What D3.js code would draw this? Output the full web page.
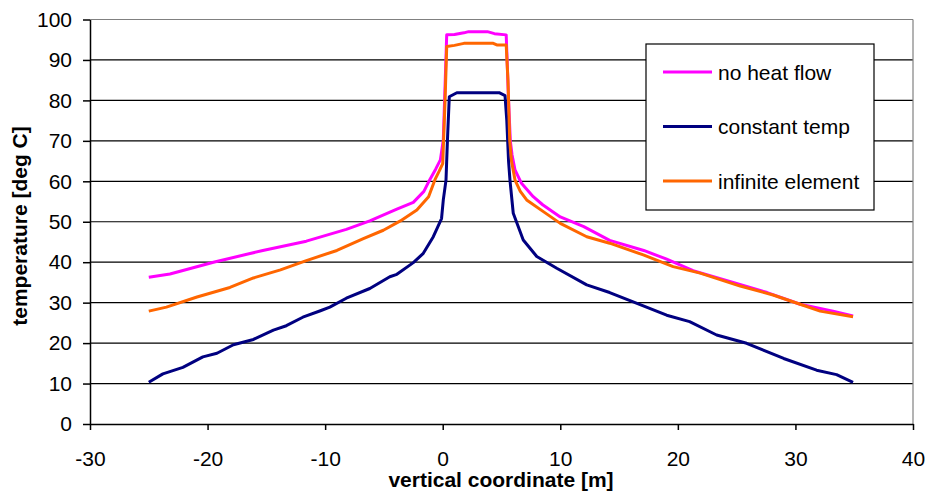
<!DOCTYPE html>
<html>
<head>
<meta charset="utf-8">
<script src="https://cdn.jsdelivr.net/npm/d3@7"></script>
<style>
  body { margin: 0; background: #fff; }
  text { font-family: "Liberation Sans", Arial, sans-serif; }
</style>
</head>
<body>
<div class="chart"></div>
<script>
// data: [vertical coordinate, temperature]
var noHeatFlow = [[-25.0,36.3],[-23.2,37.1],[-19.5,40.0],[-15.3,42.9],[-11.6,45.2],[-8.2,48.1],[-6.2,50.2],[-3.9,53.1],[-2.5,54.8],[-1.6,57.5],[-1.1,60.4],[-0.6,63.0],[-0.2,65.3],[0.05,70.2],[0.34,96.2],[1.0,96.3],[1.8,96.7],[2.2,97.0],[3.8,97.0],[4.4,96.5],[5.4,96.2],[5.6,80.0],[5.75,70.0],[5.9,66.5],[6.15,62.8],[6.7,59.5],[7.7,56.2],[8.5,54.2],[10.0,51.2],[12.0,48.8],[14.2,45.4],[17.1,42.9],[19.0,40.8],[21.3,37.9],[24.7,35.0],[27.6,32.5],[30.4,29.6],[33.2,27.9],[34.9,26.7]];
var constantTemp = [[-25.0,10.3],[-23.8,12.4],[-22.1,14.0],[-20.4,16.6],[-19.2,17.5],[-17.8,19.6],[-16.1,20.9],[-14.4,23.2],[-13.3,24.3],[-11.9,26.4],[-10.4,28.0],[-9.6,28.9],[-8.2,31.1],[-6.2,33.5],[-4.5,36.4],[-3.9,37.0],[-2.5,39.9],[-1.65,42.2],[-0.8,46.3],[-0.1,50.8],[0.05,55.4],[0.28,60.3],[0.4,70.0],[0.56,80.9],[1.2,81.9],[4.8,81.9],[5.3,81.2],[5.45,75.0],[5.6,65.0],[5.72,60.3],[6.0,52.1],[6.85,45.5],[8.0,41.4],[9.7,38.5],[12.25,34.4],[14.2,32.5],[16.2,30.2],[19.05,26.9],[21.0,25.3],[23.3,22.0],[25.85,19.95],[29.0,16.2],[31.8,13.3],[33.5,12.2],[34.9,10.3]];
var infiniteElement = [[-25.0,27.9],[-23.5,28.9],[-20.9,31.4],[-18.1,33.75],[-16.1,36.1],[-13.8,38.1],[-11.6,40.4],[-9.0,42.9],[-6.75,45.8],[-5.05,47.9],[-3.6,50.2],[-2.2,52.9],[-1.2,56.2],[-0.66,60.4],[-0.3,62.5],[0.0,64.4],[0.2,80.0],[0.34,93.3],[1.0,93.6],[1.8,94.1],[4.3,94.1],[4.6,93.7],[5.4,93.7],[5.55,85.0],[5.7,70.0],[5.85,65.0],[6.15,60.3],[6.6,57.5],[7.14,55.4],[8.56,52.5],[10.0,49.6],[12.25,46.3],[14.2,44.7],[17.06,41.8],[19.6,38.9],[21.9,37.3],[25.3,34.1],[28.1,31.9],[30.4,29.6],[32.1,27.9],[34.9,26.5]];

var seriesNames = ['no heat flow', 'constant temp', 'infinite element'];
var seriesData = [noHeatFlow, constantTemp, infiniteElement];
var seriesColors = ['#ff00ff', '#000080', '#ff6600'];
var xTicks = [-30, -20, -10, 0, 10, 20, 30, 40];
var yTicks = [0, 10, 20, 30, 40, 50, 60, 70, 80, 90, 100];

var W = 928, H = 491;
var margin = {top: 19.5, right: 15, bottom: 67, left: 90},
    width = W - margin.left - margin.right,
    height = H - margin.top - margin.bottom;

var svg = d3.select(".chart")
  .append("svg")
    .attr("width", W)
    .attr("height", H)
  .append("g")
    .attr("transform", "translate(" + margin.left + "," + margin.top + ")");

var x = d3.scaleLinear().domain([-30, 40]).range([0, width]);
var y = d3.scaleLinear().domain([0, 100]).range([height, 0]);

// gridlines
svg.selectAll(".grid")
  .data(yTicks.filter(function(d) { return d > 0; }))
  .enter().append("line")
    .attr("class", "grid")
    .attr("x1", 0).attr("x2", width)
    .attr("y1", function(d) { return y(d); })
    .attr("y2", function(d) { return y(d); })
    .attr("stroke", function(d) { return d === 100 ? "#808080" : "#000"; })
    .attr("stroke-width", 1.2);

// right border
svg.append("line")
  .attr("x1", width).attr("x2", width)
  .attr("y1", 0).attr("y2", height)
  .attr("stroke", "#808080")
  .attr("stroke-width", 1.2);

// axes (plain hyphen for negatives, like the original)
var fmt = function(d) { return String(d); };

var yAx = svg.append("g")
  .call(d3.axisLeft(y).tickValues(yTicks).tickFormat(fmt).tickSize(7).tickSizeOuter(0));
yAx.selectAll("text")
  .attr("x", -18)
  .attr("font-size", "21px")
  .attr("fill", "#000");

var xAx = svg.append("g")
  .attr("transform", "translate(0," + height + ")")
  .call(d3.axisBottom(x).tickValues(xTicks).tickFormat(fmt).tickSize(6).tickSizeOuter(0));
xAx.selectAll("text")
  .attr("y", 42)
  .attr("dy", 0)
  .attr("font-size", "21px")
  .attr("fill", "#000");

svg.selectAll(".domain, .tick line")
  .attr("stroke", "#000")
  .attr("stroke-width", 1.5);

// lines
var line = d3.line()
  .x(function(d) { return x(d[0]); })
  .y(function(d) { return y(d[1]); });

svg.selectAll(".series")
  .data(seriesData)
  .enter().append("path")
    .attr("class", "series")
    .attr("fill", "none")
    .attr("stroke", function(d, i) { return seriesColors[i]; })
    .attr("stroke-width", 3)
    .attr("stroke-linejoin", "round")
    .attr("d", line);

// legend
var legend = svg.append("g")
  .attr("transform", "translate(" + (646 - margin.left) + "," + (44 - margin.top) + ")");

legend.append("rect")
  .attr("width", 228)
  .attr("height", 166)
  .attr("fill", "#fff")
  .attr("stroke", "#000")
  .attr("stroke-width", 1.2);

var item = legend.selectAll(".item")
  .data(seriesNames)
  .enter().append("g")
    .attr("class", "item")
    .attr("transform", function(d, i) { return "translate(0," + (28 + i * 54.5) + ")"; });

item.append("line")
  .attr("x1", 17).attr("x2", 66)
  .attr("stroke", function(d, i) { return seriesColors[i]; })
  .attr("stroke-width", 3);

item.append("text")
  .attr("x", 72)
  .attr("y", 7.5)
  .attr("font-size", "21px")
  .text(function(d) { return d; });

// axis titles
svg.append("text")
  .attr("x", 501 - margin.left)
  .attr("y", 487 - margin.top)
  .attr("text-anchor", "middle")
  .attr("font-size", "21px")
  .attr("font-weight", "bold")
  .text("vertical coordinate [m]");

svg.append("text")
  .attr("transform", "translate(" + (27 - margin.left) + "," + (226 - margin.top) + ") rotate(-90)")
  .attr("text-anchor", "middle")
  .attr("font-size", "21px")
  .attr("font-weight", "bold")
  .text("temperature [deg C]");
</script>
</body>
</html>
